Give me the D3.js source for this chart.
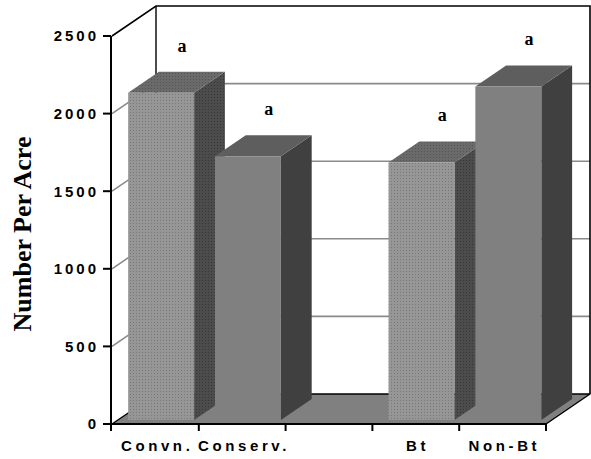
<!DOCTYPE html>
<html>
<head>
<meta charset="utf-8">
<script src="https://cdn.jsdelivr.net/npm/d3@7/dist/d3.min.js"></script>
<style>
  html, body { margin: 0; padding: 0; background: #fff; }
  svg { display: block; }
</style>
</head>
<body>
<svg id="chart" width="591" height="459"></svg>
<script>
// Categories along the floor (the empty one leaves a gap between the two pairs)
const categories = ["Convn.", "Conserv.", "", "Bt", "Non-Bt"];
// Number per acre for each category
const values = [2110, 1700, null, 1660, 2150];
// Significance letters printed above each bar
const letters = ["a", "a", "", "a", "a"];
// Value axis ticks
const yTicks = [0, 500, 1000, 1500, 2000, 2500];
const yTitle = "Number Per Acre";

const svg = d3.select("#chart");

// Front plane of the 3D box and the depth vector toward the back wall
const front = { left: 112, right: 546, bottom: 424, top: 36 };
const depth = { dx: 44, dy: -30 };
const barZ = [0.13, 0.83];   // bar front / back depth fractions

const x = d3.scaleBand().domain(d3.range(categories.length))
  .range([front.left, front.right]).paddingInner(0.24).paddingOuter(0.12);
const y = d3.scaleLinear().domain([0, 2500]).range([front.bottom, front.top]);

const P = (px, py, z) => [px + z * depth.dx, py + z * depth.dy];
const poly = pts => "M" + pts.map(p => p.join(",")).join("L") + "Z";

// Dotted fills for the first bar of each pair
const defs = svg.append("defs");
function dots(id, base, dot) {
  const p = defs.append("pattern").attr("id", id).attr("patternUnits", "userSpaceOnUse")
    .attr("width", 3).attr("height", 3);
  p.append("rect").attr("width", 3).attr("height", 3).attr("fill", base);
  p.append("rect").attr("x", 1).attr("y", 1).attr("width", 1).attr("height", 1).attr("fill", dot);
}
dots("dotFront", "#969696", "#787878");
dots("dotTop", "#6a6a6a", "#545454");
dots("dotSide", "#4c4c4c", "#363636");
const solid = { front: "#808080", top: "#5e5e5e", side: "#404040" };
const dotted = { front: "url(#dotFront)", top: "url(#dotTop)", side: "url(#dotSide)" };

const g = svg.append("g");
const y0 = y(0), yMax = y(2500);
const xL = front.left, xR = front.right;

// Back wall and left side wall
g.append("path").attr("d", poly([P(xL, yMax, 1), P(xR, yMax, 1), P(xR, y0, 1), P(xL, y0, 1)]))
  .attr("fill", "#fff");
g.append("path").attr("d", poly([P(xL, yMax, 0), P(xL, yMax, 1), P(xL, y0, 1), P(xL, y0, 0)]))
  .attr("fill", "#fff");

// Gridlines on the walls
yTicks.filter(v => v > 0 && v < 2500).forEach(v => {
  const a = P(xL, y(v), 0), b = P(xL, y(v), 1), c = P(xR, y(v), 1);
  g.append("path").attr("d", `M${a}L${b}L${c}`).attr("fill", "none")
    .attr("stroke", "#8a8a8a").attr("stroke-width", 1.6);
});

// Wall outlines
g.append("path")
  .attr("d", `M${P(xL, yMax, 0)}L${P(xL, yMax, 1)}L${P(xR, yMax, 1)}L${P(xR, y0, 1)}`)
  .attr("fill", "none").attr("stroke", "#000").attr("stroke-width", 1.6);
g.append("path").attr("d", `M${P(xL, yMax, 1)}L${P(xL, y0, 1)}`)
  .attr("stroke", "#000").attr("stroke-width", 1.4);

// Floor
g.append("path").attr("d", poly([P(xL, y0, 0), P(xR, y0, 0), P(xR, y0, 1), P(xL, y0, 1)]))
  .attr("fill", "#808080").attr("stroke", "#000").attr("stroke-width", 1.4)
  .attr("stroke-linejoin", "round");

// Bars, drawn left to right so each one overlaps its neighbour's side
categories.forEach((c, i) => {
  const v = values[i];
  if (v == null) return;
  const firstOfPair = i === 0 || values[i - 1] == null;
  const f = firstOfPair ? dotted : solid;
  const bx0 = x(i), bx1 = x(i) + x.bandwidth();
  const yt = y(v);
  const [z0, z1] = barZ;
  g.append("path").attr("d", poly([P(bx1, yt, z0), P(bx1, yt, z1), P(bx1, y0, z1), P(bx1, y0, z0)]))
    .attr("fill", f.side);
  g.append("path").attr("d", poly([P(bx0, yt, z0), P(bx0, yt, z1), P(bx1, yt, z1), P(bx1, yt, z0)]))
    .attr("fill", f.top);
  g.append("path").attr("d", poly([P(bx0, yt, z0), P(bx1, yt, z0), P(bx1, y0, z0), P(bx0, y0, z0)]))
    .attr("fill", f.front);

  // Letter above the bar
  const topBack = P((bx0 + bx1) / 2, yt, z1);
  g.append("text").attr("x", topBack[0] - 10).attr("y", topBack[1] - 20)
    .attr("text-anchor", "middle")
    .attr("font-family", "'Liberation Serif', 'Times New Roman', serif")
    .attr("font-weight", "bold").attr("font-size", 18).text(letters[i]);
});

// Value axis
g.append("line").attr("x1", xL - 1).attr("x2", xL - 1).attr("y1", yMax).attr("y2", y0 + 7)
  .attr("stroke", "#000").attr("stroke-width", 2);
yTicks.forEach(v => {
  g.append("line").attr("x1", xL - 9).attr("x2", xL - 1).attr("y1", y(v)).attr("y2", y(v))
    .attr("stroke", "#000").attr("stroke-width", 2);
  g.append("text").attr("x", 96 + 3).attr("y", y(v)).attr("dy", "0.36em")
    .attr("text-anchor", "end")
    .attr("font-family", "'Liberation Sans', Arial, sans-serif")
    .attr("font-weight", "bold").attr("font-size", 15).attr("letter-spacing", 3)
    .text(d3.format("d")(v));
});

// Category axis
g.append("line").attr("x1", xL - 1).attr("x2", xR).attr("y1", y0).attr("y2", y0)
  .attr("stroke", "#000").attr("stroke-width", 2);
d3.range(1, categories.length + 1).forEach(k => {
  const tx = x.range()[0] + k * x.step();
  g.append("line").attr("x1", tx).attr("x2", tx).attr("y1", y0).attr("y2", y0 + 7)
    .attr("stroke", "#000").attr("stroke-width", 2);
});
categories.forEach((c, i) => {
  if (!c) return;
  g.append("text").attr("x", x(i) + x.bandwidth() / 2 + 1.8).attr("y", 451)
    .attr("text-anchor", "middle")
    .attr("font-family", "'Liberation Sans', Arial, sans-serif")
    .attr("font-weight", "bold").attr("font-size", 15).attr("letter-spacing", 3.6)
    .text(c);
});

// Axis title
g.append("text").attr("transform", "translate(31,234) rotate(-90)")
  .attr("text-anchor", "middle")
  .attr("font-family", "'Liberation Serif', 'Times New Roman', serif")
  .attr("font-weight", "bold").attr("font-size", 26).text(yTitle);
</script>
</body>
</html>
